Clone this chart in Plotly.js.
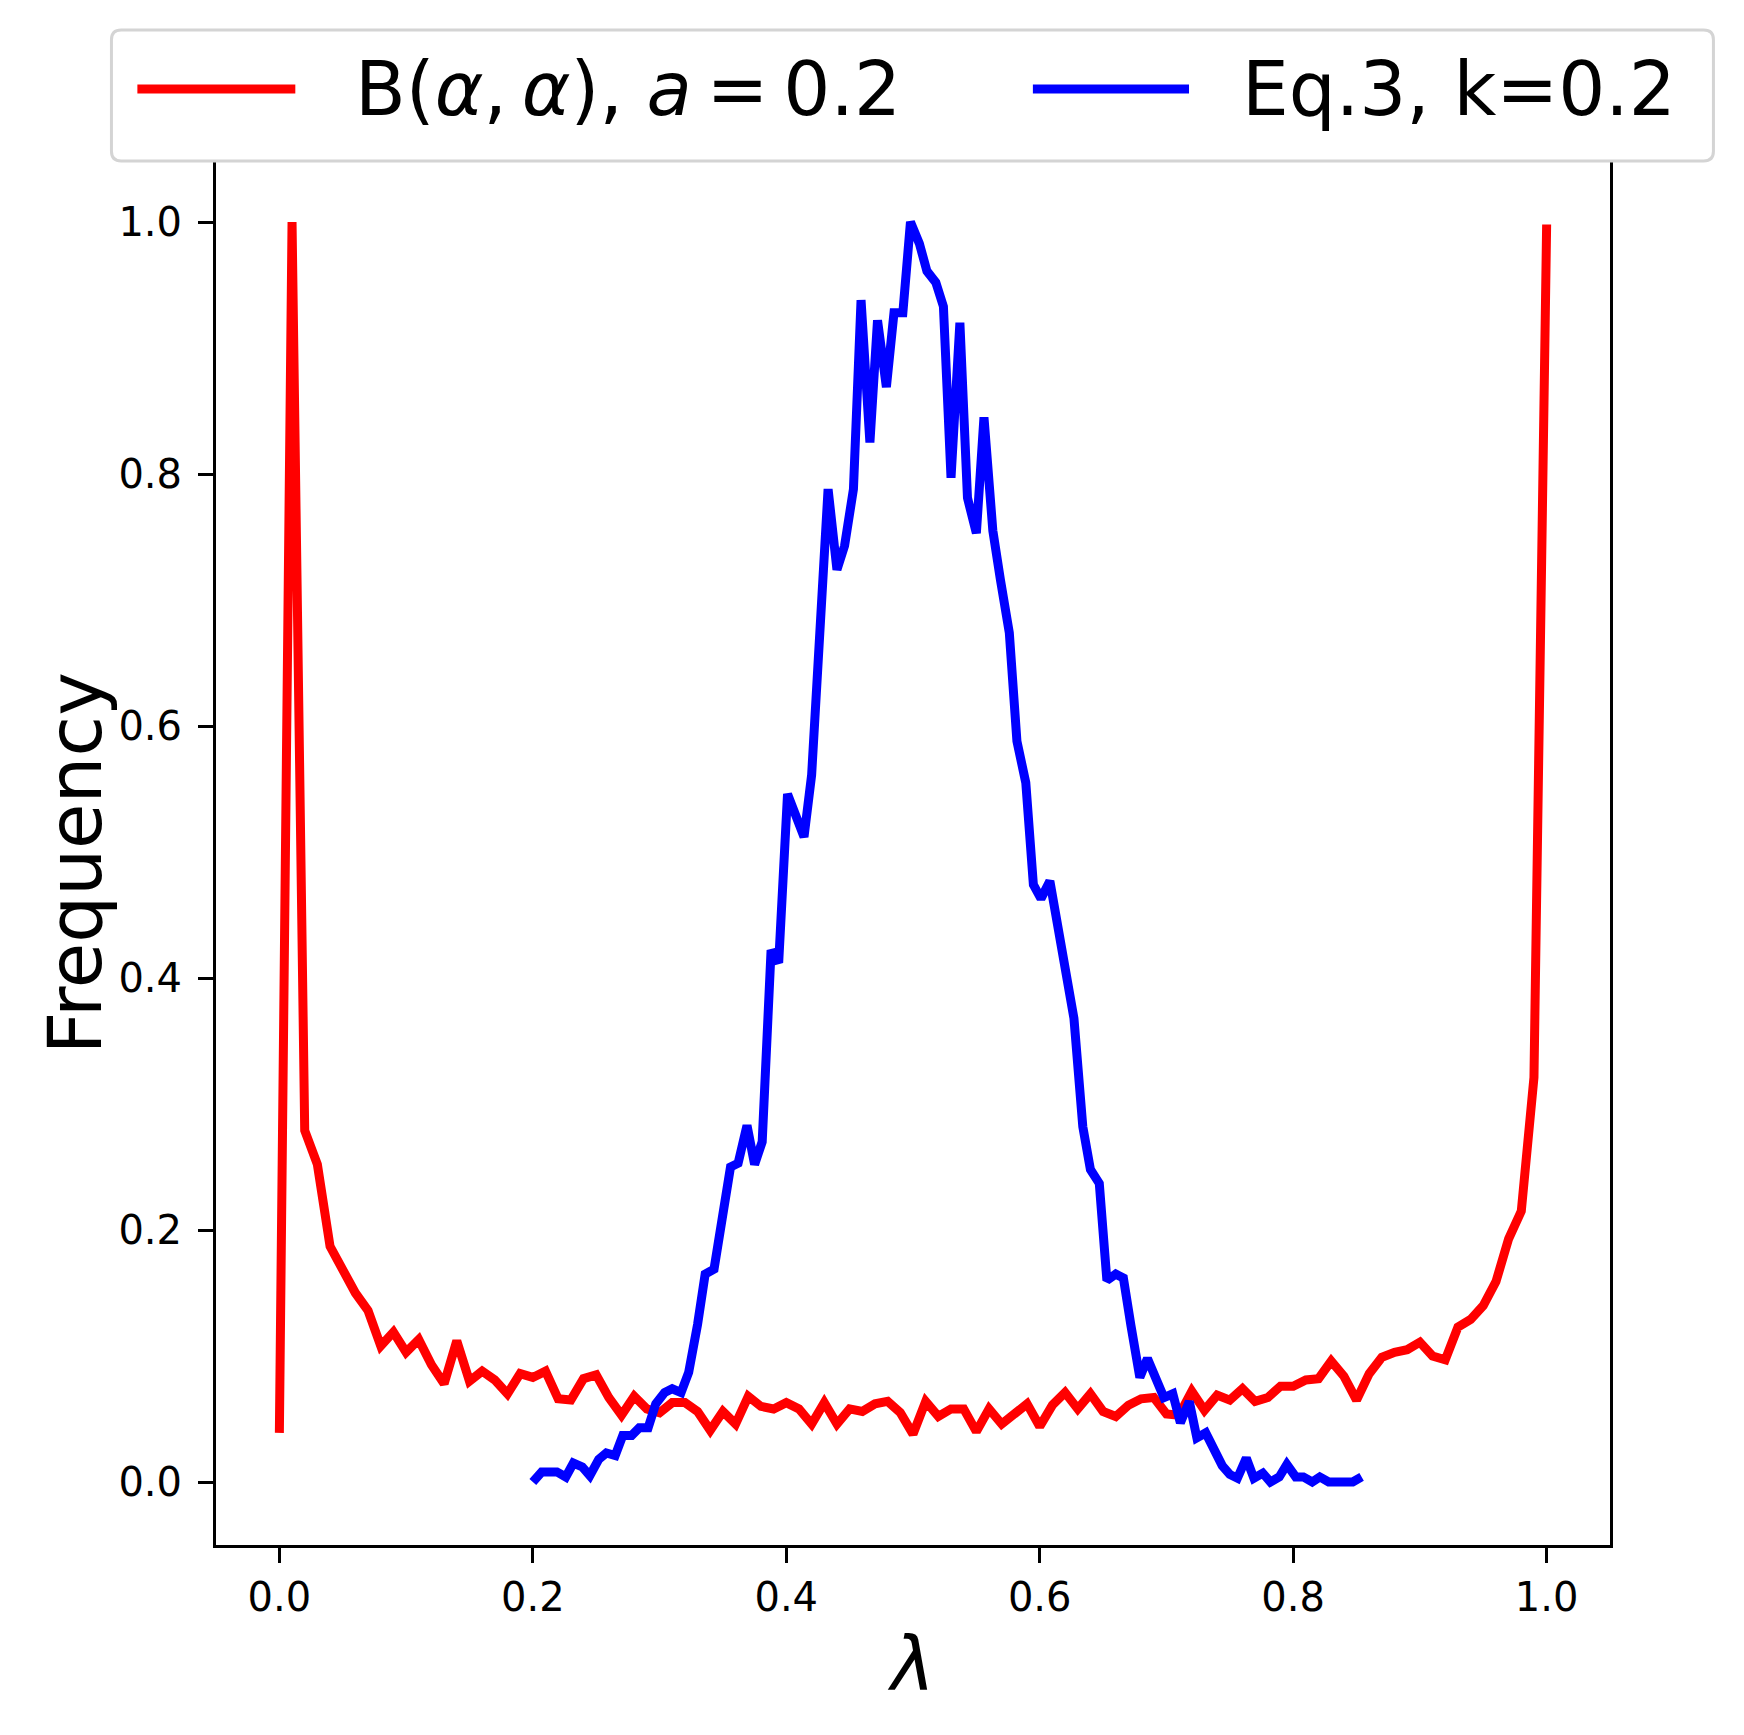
<!DOCTYPE html>
<html>
<head>
<meta charset="utf-8">
<script src="https://cdn.plot.ly/plotly-3.0.1.min.js"></script>
<style>
  html, body { margin: 0; padding: 0; background: #fff; }
  #chart { width: 1744px; height: 1735px; }
</style>
</head>
<body>
<div id="chart"></div>
<script>
// Beta(a, a) histogram, bins of 0.01 from 0 to 1 (normalised to max = 1)
const betaFreq = [
  0.039, 1.000, 0.279, 0.252, 0.187, 0.167, 0.150, 0.136, 0.108, 0.119,
  0.103, 0.113, 0.093, 0.078, 0.112, 0.080, 0.088, 0.081, 0.070, 0.086,
  0.083, 0.088, 0.066, 0.065, 0.082, 0.085, 0.067, 0.053, 0.068, 0.058,
  0.055, 0.063, 0.063, 0.056, 0.041, 0.056, 0.046, 0.068, 0.060, 0.058,
  0.063, 0.058, 0.046, 0.063, 0.046, 0.058, 0.056, 0.062, 0.064, 0.055,
  0.038, 0.064, 0.052, 0.058, 0.058, 0.040, 0.058, 0.046, 0.053, 0.062,
  0.044, 0.061, 0.071, 0.058, 0.070, 0.056, 0.052, 0.061, 0.066, 0.067,
  0.054, 0.053, 0.072, 0.057, 0.069, 0.065, 0.074, 0.064, 0.067, 0.076,
  0.076, 0.081, 0.082, 0.096, 0.084, 0.065, 0.086, 0.099, 0.103, 0.105,
  0.111, 0.100, 0.097, 0.123, 0.129, 0.140, 0.159, 0.193, 0.215, 0.321,
  0.998
];
const betaLambda = betaFreq.map((_, i) => i / 100);

// Eq.3 histogram (k = 0.2)
const eqLambda = [
  0.200, 0.207, 0.213, 0.219, 0.226, 0.232, 0.239, 0.245, 0.252, 0.258,
  0.265, 0.271, 0.278, 0.284, 0.291, 0.297, 0.304, 0.310, 0.317, 0.323,
  0.330, 0.336, 0.343, 0.349, 0.356, 0.362, 0.369, 0.375, 0.381, 0.388,
  0.394, 0.401, 0.407, 0.414, 0.420, 0.427, 0.433, 0.440, 0.446, 0.453,
  0.459, 0.466, 0.472, 0.479, 0.485, 0.492, 0.498, 0.505, 0.511, 0.518,
  0.524, 0.530, 0.537, 0.543, 0.550, 0.556, 0.563, 0.569, 0.576, 0.582,
  0.589, 0.595, 0.601, 0.608, 0.614, 0.621, 0.627, 0.634, 0.640, 0.647,
  0.653, 0.660, 0.666, 0.672, 0.679, 0.685, 0.692, 0.698, 0.705, 0.711,
  0.718, 0.724, 0.731, 0.737, 0.744, 0.750, 0.756, 0.763, 0.769, 0.776,
  0.782, 0.789, 0.795, 0.802, 0.808, 0.815, 0.821, 0.828, 0.834, 0.841,
  0.847, 0.854
];
const eqFreq = [
  0.000, 0.008, 0.008, 0.008, 0.004, 0.015, 0.012, 0.005, 0.018, 0.023,
  0.021, 0.037, 0.037, 0.043, 0.043, 0.062, 0.071, 0.074, 0.071, 0.087,
  0.125, 0.165, 0.169, 0.209, 0.250, 0.253, 0.283, 0.252, 0.270, 0.422,
  0.412, 0.546, 0.529, 0.512, 0.561, 0.674, 0.788, 0.724, 0.743, 0.788,
  0.938, 0.825, 0.922, 0.869, 0.928, 0.928, 1.000, 0.983, 0.961, 0.952,
  0.933, 0.797, 0.920, 0.781, 0.753, 0.845, 0.755, 0.716, 0.674, 0.588,
  0.555, 0.474, 0.463, 0.477, 0.443, 0.396, 0.368, 0.282, 0.248, 0.237,
  0.160, 0.165, 0.162, 0.124, 0.083, 0.098, 0.081, 0.067, 0.070, 0.047,
  0.064, 0.035, 0.039, 0.026, 0.013, 0.006, 0.003, 0.019, 0.003, 0.007,
  0.000, 0.004, 0.014, 0.004, 0.004, 0.000, 0.004, 0.000, 0.000, 0.000,
  0.000, 0.004
];

const seriesNames = [
  'B(<i>α</i>,\u2009<i>α</i>), <i>a</i>\u2009=\u20090.2',
  'Eq.3, k=0.2'
];
const seriesColors = ['#ff0000', '#0000ff'];
const tickVals = [0, 0.2, 0.4, 0.6, 0.8, 1.0];

const FONT = 'DejaVu Sans, sans-serif';
const LW = 9;

const traces = [
  {
    x: betaLambda, y: betaFreq, type: 'scatter', mode: 'lines',
    name: seriesNames[0], line: {color: seriesColors[0], width: LW}
  },
  {
    x: eqLambda, y: eqFreq, type: 'scatter', mode: 'lines',
    name: seriesNames[1], line: {color: seriesColors[1], width: LW}
  }
];

// legend drawn by hand so the line samples keep matplotlib's length
function roundRect(x0, y0, x1, y1, rx, ry) {
  return 'M' + (x0 + rx) + ',' + y0 + ' L' + (x1 - rx) + ',' + y0 +
    ' Q' + x1 + ',' + y0 + ' ' + x1 + ',' + (y0 + ry) +
    ' L' + x1 + ',' + (y1 - ry) +
    ' Q' + x1 + ',' + y1 + ' ' + (x1 - rx) + ',' + y1 +
    ' L' + (x0 + rx) + ',' + y1 +
    ' Q' + x0 + ',' + y1 + ' ' + x0 + ',' + (y1 - ry) +
    ' L' + x0 + ',' + (y0 + ry) +
    ' Q' + x0 + ',' + y0 + ' ' + (x0 + rx) + ',' + y0 + ' Z';
}

const legendY = 1.0505;
const shapes = [
  {
    type: 'path', xref: 'paper', yref: 'paper', layer: 'above',
    path: roundRect(-0.075, 0.9986, 1.0742, 1.0931, 0.007, 0.007),
    fillcolor: '#ffffff', line: {color: '#d4d4d4', width: 3}
  },
  {
    type: 'line', xref: 'paper', yref: 'paper', layer: 'above',
    x0: -0.0564, x1: 0.0569, y0: legendY, y1: legendY,
    line: {color: seriesColors[0], width: LW}
  },
  {
    type: 'line', xref: 'paper', yref: 'paper', layer: 'above',
    x0: 0.586, x1: 0.698, y0: legendY, y1: legendY,
    line: {color: seriesColors[1], width: LW}
  }
];

const annotations = [
  {
    xref: 'paper', yref: 'paper', x: 0.0985, y: legendY,
    xanchor: 'left', yanchor: 'middle', showarrow: false,
    text: seriesNames[0], font: {family: FONT, size: 74, color: '#000'}
  },
  {
    xref: 'paper', yref: 'paper', x: 0.7345, y: legendY,
    xanchor: 'left', yanchor: 'middle', showarrow: false,
    text: seriesNames[1], font: {family: FONT, size: 74, color: '#000'}
  },
  {
    // y axis title, placed by hand to sit where matplotlib puts it
    xref: 'paper', yref: 'paper', x: -0.101, y: 0.492,
    xanchor: 'center', yanchor: 'middle', showarrow: false, textangle: -90,
    text: 'Frequency', font: {family: FONT, size: 74, color: '#000'}
  }
];

const axisCommon = {
  range: [-0.05, 1.05],
  tickvals: tickVals,
  tickformat: '.1f',
  ticks: 'outside',
  ticklen: 15,
  tickwidth: 3,
  tickcolor: '#000',
  showline: true,
  linecolor: '#000',
  linewidth: 3,
  mirror: true,
  showgrid: false,
  zeroline: false,
  tickfont: {family: FONT, size: 40, color: '#000'},
  automargin: false
};

const layout = {
  width: 1744,
  height: 1735,
  margin: {l: 216, r: 134, t: 159, b: 190},
  paper_bgcolor: '#ffffff',
  plot_bgcolor: '#ffffff',
  showlegend: false,
  font: {family: FONT, color: '#000'},
  xaxis: Object.assign({}, axisCommon, {
    ticklabelstandoff: 0,
    title: {text: '<i>λ</i>', font: {family: FONT, size: 74, color: '#000'}, standoff: 20}
  }),
  yaxis: Object.assign({}, axisCommon, {
    ticklabelstandoff: 8
  }),
  shapes: shapes,
  annotations: annotations
};

Plotly.newPlot('chart', traces, layout, {staticPlot: true, displayModeBar: false});
</script>
</body>
</html>
